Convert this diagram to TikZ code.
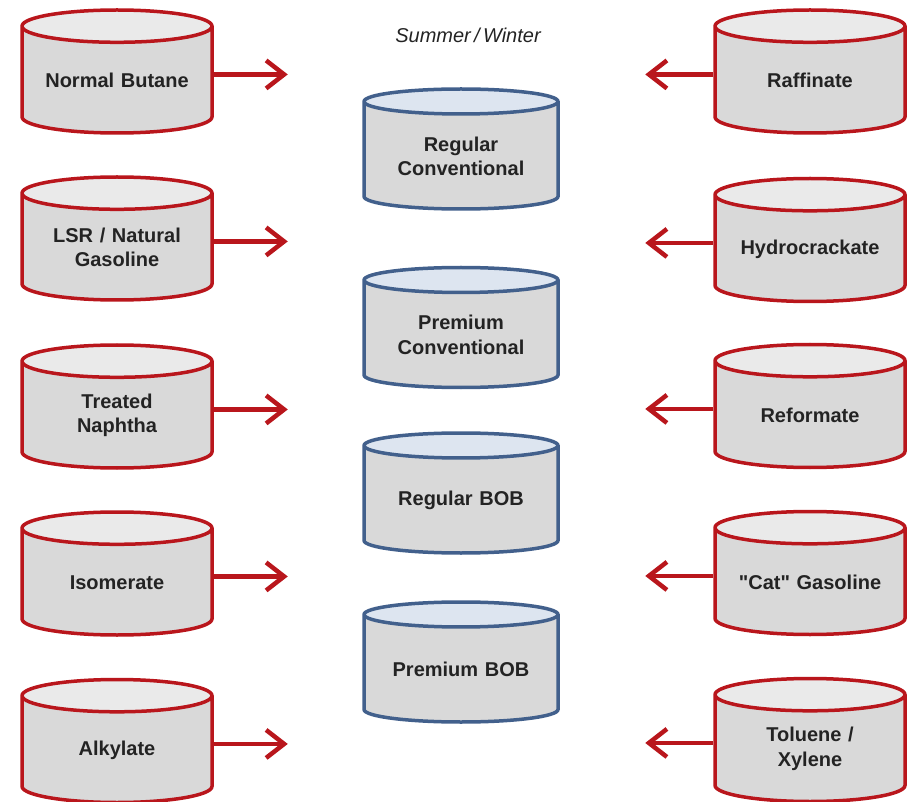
\documentclass[tikz,border=0pt]{standalone}
\usepackage{fontspec}
\setmainfont{Liberation Sans}
\usetikzlibrary{shapes.geometric,arrows.meta,positioning}
\definecolor{tankred}{RGB}{185,22,28}
\definecolor{tankblue}{RGB}{66,96,140}
\definecolor{tankgray}{RGB}{217,217,217}
\definecolor{redtop}{RGB}{234,234,234}
\definecolor{bluetop}{RGB}{221,229,240}
\definecolor{inkgray}{RGB}{35,35,35}
\tikzset{
  tank/.style={cylinder, shape border rotate=90, draw, line width=3.5pt,
    cylinder uses custom fill, cylinder body fill=tankgray, align=center,
    text width=170pt, text=inkgray, anchor=shape center,
    font=\fontsize{20}{24.5}\selectfont\bfseries, inner sep=0pt},
  feedtank/.style={tank, draw=tankred, cylinder end fill=redtop, aspect=0.19,
    minimum width=190pt, minimum height=123pt},
  gradetank/.style={tank, draw=tankblue, cylinder end fill=bluetop, aspect=0.147,
    minimum width=194pt, minimum height=120pt},
  flow/.style={draw=tankred, line width=4.5pt, -{Straight Barb[length=18pt,width=28pt]}}
}
\begin{document}
\begin{tikzpicture}[x=1pt,y=-1pt]
  \useasboundingbox (0,0) rectangle (916,802);

  % blend stocks on the left
  \node[feedtank] (nbut) at (117,71.5) {Normal Butane};
  \node[feedtank] (lsr) at (117,238.5) {LSR / Natural\\Gasoline};
  \node[feedtank] (naph) at (117,406.5) {Treated\\Naphtha};
  \node[feedtank] (isom) at (117,573.5) {Isomerate};
  \node[feedtank] (alky) at (117,741) {Alkylate};

  % blend stocks on the right
  \node[feedtank] (raff) at (810,71.5) {Raffinate};
  \node[feedtank] (hcrk) at (810,240) {Hydrocrackate};
  \node[feedtank] (refm) at (810,406) {Reformate};
  \node[feedtank] (fcc) at (810,573) {\textquotedbl Cat\textquotedbl\ Gasoline};
  \node[feedtank] (tolx) at (810,740) {Toluene /\\Xylene};

  % finished grades in the middle
  \node[font=\fontsize{20}{24}\selectfont\itshape, text=inkgray] (season) at (468,35) {Summer\,/\,Winter};
  \node[gradetank] (regc) at (461,149) {Regular\\Conventional};
  \node[gradetank] (premc) at (461,327.5) {Premium\\Conventional};
  \node[gradetank] (regb) at (461,493) {Regular BOB};
  \node[gradetank] (premb) at (461,662) {Premium BOB};

  % arrows into the blend
  \foreach \s in {nbut,lsr,naph,isom,alky} {
    \coordinate[right=74pt of {[yshift=6pt]\s.east}] (\s-in);
    \draw[flow] ([yshift=6pt]\s.east) -- (\s-in);
  }
  \foreach \s in {raff,hcrk,refm,fcc,tolx} {
    \coordinate[left=68pt of {[yshift=6pt]\s.west}] (\s-in);
    \draw[flow] ([yshift=6pt]\s.west) -- (\s-in);
  }
\end{tikzpicture}
\end{document}
